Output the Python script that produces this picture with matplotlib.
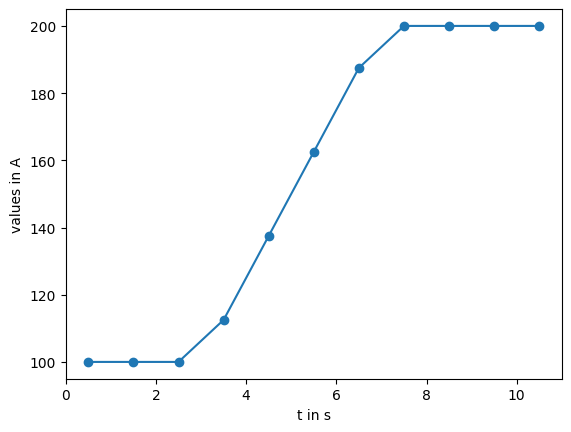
import matplotlib
matplotlib.use("Agg")
import matplotlib.pyplot as plt

t = [0.5, 1.5, 2.5, 3.5, 4.5, 5.5, 6.5, 7.5, 8.5, 9.5, 10.5]
values = [100, 100, 100, 112.5, 137.5, 162.5, 187.5, 200, 200, 200, 200]

fig, ax = plt.subplots(figsize=(6.4, 4.8), dpi=100)
ax.plot(t, values, marker='o')
ax.set_xlim(0, 11)
ax.set_xlabel('t in s')
ax.set_ylabel('values in A')
fig.savefig('out.png', bbox_inches='tight')
